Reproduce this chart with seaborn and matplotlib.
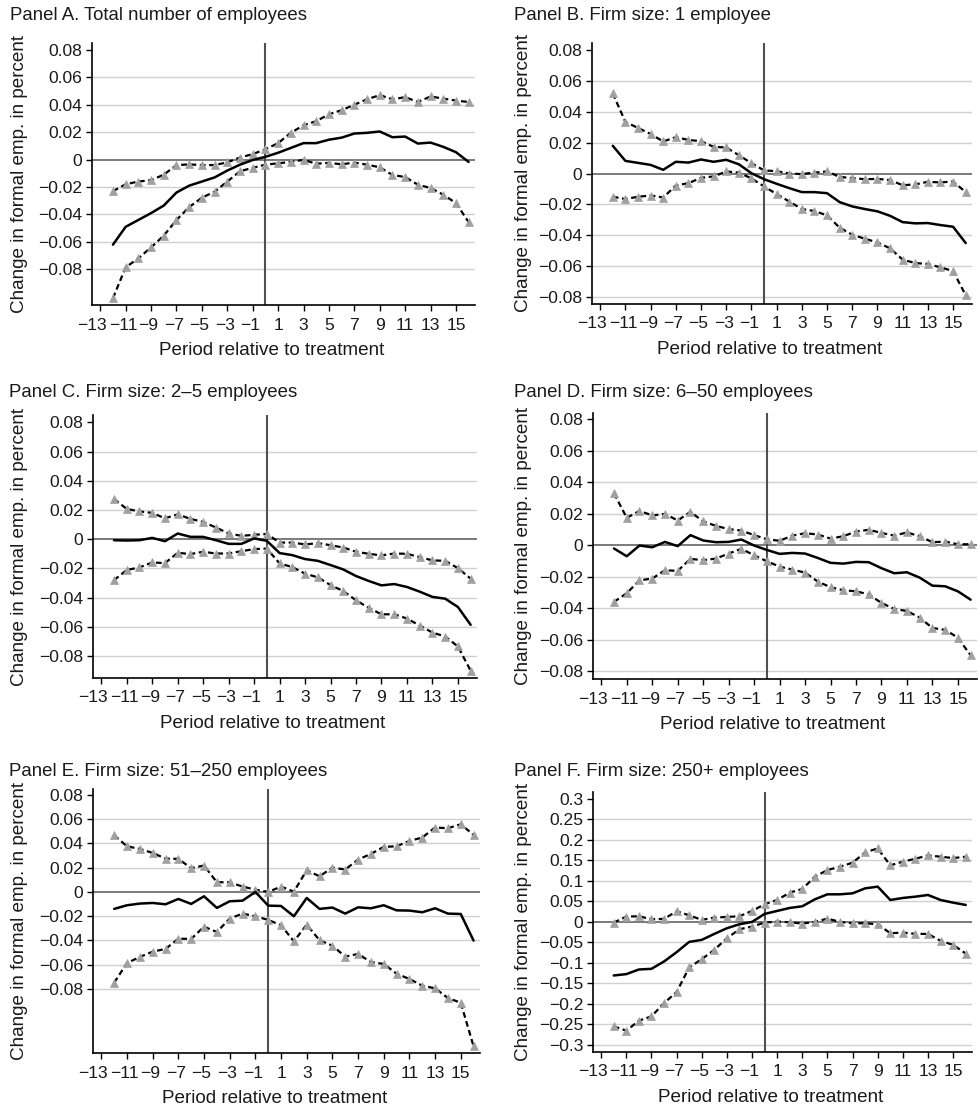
import numpy as np
import pandas as pd
import matplotlib
matplotlib.use("Agg")
import matplotlib.pyplot as plt
import matplotlib.transforms as mtransforms
import seaborn as sns

# Event-time periods
periods = list(range(-12, 17))
x_ticks = list(range(-13, 16, 2))

# Panel A. Total number of employees
a_est = [-0.062, -0.049, -0.044, -0.039, -0.0335, -0.024, -0.019, -0.016, -0.013, -0.008, -0.0037, -0.0003,
         0.002, 0.005, 0.0085, 0.012, 0.012, 0.0145, 0.016, 0.019, 0.0195, 0.0205, 0.0163, 0.0168, 0.0117,
         0.0124, 0.0093, 0.0054, -0.0017]
a_hi = [-0.023, -0.018, -0.016, -0.015, -0.011, -0.004, -0.0035, -0.004, -0.004, -0.002, 0.0015, 0.004,
        0.0075, 0.012, 0.0195, 0.025, 0.028, 0.033, 0.036, 0.040, 0.044, 0.047, 0.044, 0.0455, 0.042,
        0.046, 0.0445, 0.043, 0.042]
a_lo = [-0.101, -0.0785, -0.072, -0.064, -0.0554, -0.044, -0.0346, -0.0278, -0.0234, -0.016, -0.0085, -0.006,
        -0.0037, -0.0027, -0.0017, -0.0002, -0.003, -0.0024, -0.0034, -0.0022, -0.0037, -0.0056, -0.0112,
        -0.0127, -0.0183, -0.0207, -0.0256, -0.0317, -0.0456]

# Panel B. Firm size: 1 employee
b_est = [0.018, 0.0082, 0.0069, 0.0056, 0.0024, 0.0076, 0.0071, 0.0091, 0.0076, 0.0089, 0.006, 0.0002,
         -0.0037, -0.0067, -0.0095, -0.0121, -0.0121, -0.0128, -0.0186, -0.0214, -0.0231, -0.0246, -0.0275,
         -0.0316, -0.0324, -0.0322, -0.0335, -0.0346, -0.0452]
b_hi = [0.052, 0.0335, 0.0296, 0.0257, 0.0208, 0.0236, 0.0218, 0.021, 0.0173, 0.0169, 0.0119, 0.0067,
        0.002, 0.0015, 0.0, -0.0004, 0.0006, 0.0013, -0.0022, -0.003, -0.0037, -0.0035, -0.0043, -0.0076,
        -0.0071, -0.0054, -0.0058, -0.0052, -0.0121]
b_lo = [-0.0151, -0.0166, -0.0151, -0.0143, -0.0156, -0.0078, -0.0063, -0.0028, -0.0019, 0.0013, 0.0006,
        -0.0032, -0.0084, -0.0134, -0.0182, -0.0231, -0.0244, -0.0272, -0.0352, -0.0398, -0.0424, -0.0448,
        -0.0486, -0.056, -0.0582, -0.0588, -0.061, -0.0634, -0.0791]

# Panel C. Firm size: 2-5 employees
c_est = [-0.0007, -0.0009, -0.0007, 0.0009, -0.0014, 0.0039, 0.0016, 0.0016, -0.0007, -0.0032, -0.0032,
         0.0005, -0.0011, -0.0095, -0.0109, -0.0136, -0.0148, -0.0177, -0.0207, -0.0252, -0.0286, -0.0316,
         -0.0307, -0.0327, -0.0359, -0.0395, -0.0407, -0.0464, -0.0586]
c_hi = [0.0275, 0.0207, 0.019, 0.018, 0.0143, 0.017, 0.0139, 0.0118, 0.008, 0.0039, 0.0023, 0.003, 0.0036,
        -0.0023, -0.0023, -0.0036, -0.0027, -0.0041, -0.0057, -0.0086, -0.01, -0.0111, -0.0098, -0.01,
        -0.0123, -0.0145, -0.0148, -0.0198, -0.027]
c_lo = [-0.028, -0.0211, -0.0193, -0.0159, -0.0164, -0.0093, -0.0102, -0.0086, -0.0098, -0.0098, -0.0082,
        -0.0068, -0.0064, -0.0166, -0.0191, -0.0236, -0.0261, -0.0314, -0.0355, -0.0418, -0.047, -0.0514,
        -0.0514, -0.0543, -0.0591, -0.0639, -0.0666, -0.0734, -0.09]

# Panel D. Firm size: 6-50 employees
d_est = [-0.0021, -0.007, -0.0002, -0.0013, 0.0021, -0.0006, 0.0064, 0.003, 0.0019, 0.0021, 0.0036, -0.0002,
         -0.003, -0.0055, -0.0049, -0.0053, -0.0081, -0.0112, -0.0117, -0.0106, -0.0108, -0.0146, -0.0178,
         -0.0172, -0.0206, -0.0257, -0.0261, -0.0293, -0.0346]
d_hi = [0.0329, 0.0174, 0.0218, 0.0189, 0.0199, 0.0157, 0.0212, 0.0151, 0.0123, 0.0102, 0.0093, 0.0064,
        0.0038, 0.0028, 0.0061, 0.0076, 0.0068, 0.0042, 0.0057, 0.0087, 0.0098, 0.0078, 0.0061, 0.0081,
        0.0057, 0.0019, 0.0023, 0.0006, 0.0006]
d_lo = [-0.036, -0.0305, -0.0223, -0.0212, -0.0159, -0.0163, -0.0087, -0.0095, -0.0085, -0.0053, -0.0023,
        -0.0064, -0.0102, -0.0136, -0.0155, -0.0174, -0.0231, -0.0267, -0.0286, -0.0293, -0.0312, -0.0367,
        -0.0405, -0.0418, -0.046, -0.0526, -0.0538, -0.0587, -0.07]

# Panel E. Firm size: 51-250 employees
e_est = [-0.014, -0.011, -0.0096, -0.0091, -0.0102, -0.0058, -0.0099, -0.0036, -0.0132, -0.0077, -0.0072,
         0.0, -0.0113, -0.0116, -0.0201, -0.005, -0.014, -0.0129, -0.0179, -0.0127, -0.0135, -0.011,
         -0.0152, -0.0154, -0.0168, -0.0135, -0.0179, -0.0182, -0.0402]
e_hi = [0.0468, 0.0377, 0.0355, 0.0322, 0.0275, 0.0273, 0.0196, 0.0218, 0.008, 0.008, 0.0044, 0.0019, 0.0,
        0.0044, 0.0003, 0.0179, 0.0129, 0.0201, 0.0185, 0.0267, 0.0314, 0.0372, 0.0377, 0.0421, 0.0449,
        0.0532, 0.0526, 0.0559, 0.0471]
e_lo = [-0.0749, -0.0587, -0.0537, -0.0493, -0.0471, -0.0386, -0.0388, -0.0287, -0.0331, -0.022, -0.0179,
        -0.0201, -0.0231, -0.0275, -0.0408, -0.027, -0.0399, -0.0444, -0.0534, -0.0512, -0.0579, -0.0595,
        -0.0675, -0.0719, -0.0774, -0.0796, -0.0876, -0.0915, -0.1275]

# Panel F. Firm size: 250+ employees
f_est = [-0.1314, -0.1281, -0.1168, -0.1152, -0.0973, -0.0746, -0.0495, -0.0446, -0.03, -0.0162, -0.0065,
         -0.0008, 0.0187, 0.026, 0.0333, 0.0373, 0.0543, 0.0665, 0.0665, 0.0689, 0.0811, 0.0852, 0.0527,
         0.0576, 0.0608, 0.0649, 0.0527, 0.0462, 0.0406]
f_hi = [-0.0024, 0.0122, 0.013, 0.0057, 0.0065, 0.0251, 0.0154, 0.0041, 0.0097, 0.0114, 0.013, 0.026,
        0.0422, 0.0527, 0.0706, 0.0795, 0.1095, 0.1257, 0.1338, 0.1436, 0.1687, 0.1784, 0.1371, 0.146,
        0.1533, 0.1614, 0.1582, 0.1549, 0.1582]
f_lo = [-0.2555, -0.266, -0.2417, -0.2311, -0.1987, -0.1719, -0.1119, -0.0916, -0.0689, -0.0406, -0.0187,
        -0.0122, -0.0024, 0.0, -0.0016, -0.0049, -0.0008, 0.0073, -0.0008, -0.0041, -0.0041, -0.0065,
        -0.0284, -0.0268, -0.03, -0.03, -0.047, -0.0568, -0.0779]

titles = [
    "Panel A. Total number of employees",
    "Panel B. Firm size: 1 employee",
    "Panel C. Firm size: 2\u20135 employees",
    "Panel D. Firm size: 6\u201350 employees",
    "Panel E. Firm size: 51\u2013250 employees",
    "Panel F. Firm size: 250+ employees",
]
small_yticks = [-0.08, -0.06, -0.04, -0.02, 0.0, 0.02, 0.04, 0.06, 0.08]
large_yticks = [-0.3, -0.25, -0.2, -0.15, -0.1, -0.05, 0.0, 0.05, 0.1, 0.15, 0.2, 0.25, 0.3]

sns.set_style("ticks")
plt.rcParams["font.family"] = ["Liberation Sans", "DejaVu Sans"]

W, H = 979, 1110
fig = plt.figure(figsize=(W / 100, H / 100), dpi=100)

# (left, right, top, bottom) of each plot area in pixels, plus y-limits and title anchor
panels = [
    dict(box=(92, 475, 43, 305), ylim=(-0.106, 0.085), est=a_est, lo=a_lo, hi=a_hi, yt=small_yticks,
         tx=10, ty=15),
    dict(box=(592, 972, 43, 304), ylim=(-0.0848, 0.0848), est=b_est, lo=b_lo, hi=b_hi, yt=small_yticks,
         tx=514, ty=15),
    dict(box=(93, 477, 415, 678), ylim=(-0.095, 0.085), est=c_est, lo=c_lo, hi=c_hi, yt=small_yticks,
         tx=9, ty=393),
    dict(box=(593, 977, 413, 679), ylim=(-0.085, 0.084), est=d_est, lo=d_lo, hi=d_hi, yt=small_yticks,
         tx=514, ty=393),
    dict(box=(93, 480, 789, 1053), ylim=(-0.133, 0.085), est=e_est, lo=e_lo, hi=e_hi, yt=small_yticks,
         tx=9, ty=771),
    dict(box=(593, 972, 792, 1052), ylim=(-0.318, 0.316), est=f_est, lo=f_lo, hi=f_hi, yt=large_yticks,
         tx=514, ty=771),
]

TEXT = "#1a1a1a"


def fmt(v):
    if abs(v) < 1e-12:
        return "0"
    return f"{v:g}".replace("-", "\u2212")


for i, p in enumerate(panels):
    l, r, t, b = p["box"]
    ax = fig.add_axes([l / W, 1 - b / H, (r - l) / W, (b - t) / H])

    df = pd.DataFrame({"period": periods, "est": p["est"], "lo": p["lo"], "hi": p["hi"]})

    # horizontal grid (top tick left bare), zero line and treatment line
    for yv in p["yt"][:-1]:
        if abs(yv) > 1e-12:
            ax.axhline(yv, color="#d0d0d0", lw=1.0, zorder=0)
    ax.axhline(0, color="#707070", lw=1.3, zorder=1)
    ax.axvline(0, color="#505050", lw=1.5, zorder=1)

    # confidence bounds
    for col in ("hi", "lo"):
        sns.lineplot(data=df, x="period", y=col, ax=ax, color="black", lw=1.6,
                     dashes=False, linestyle=(0, (2.6, 1.6)), marker="^", markersize=6,
                     markerfacecolor="#a0a0a0", markeredgecolor="#a0a0a0", markeredgewidth=0.5,
                     zorder=3)
    # point estimate
    sns.lineplot(data=df, x="period", y="est", ax=ax, color="black", lw=1.8, zorder=4)

    ax.set_xlim(-13.65, 16.5)
    ax.set_ylim(*p["ylim"])
    ax.set_xticks(x_ticks)
    ax.set_xticklabels([fmt(v) for v in x_ticks])
    ax.set_yticks(p["yt"])
    ax.set_yticklabels([fmt(v) for v in p["yt"]])

    for s in ("top", "right"):
        ax.spines[s].set_visible(False)
    for s in ("left", "bottom"):
        ax.spines[s].set_color("black")
        ax.spines[s].set_linewidth(1.2)
    ax.tick_params(axis="both", direction="out", length=4, width=1, color="black",
                   labelsize=12.6, labelcolor=TEXT)
    ax.tick_params(axis="x", pad=5)
    ax.tick_params(axis="y", pad=3)

    # nudge negative period labels left so the crowded ones stay apart
    for v, lab in zip(x_ticks, ax.get_xticklabels()):
        if v < 0:
            dx = -8 if v == x_ticks[0] else -2.5
            lab.set_transform(lab.get_transform() +
                              mtransforms.ScaledTranslation(dx / 100, 0, fig.dpi_scale_trans))

    ax.set_xlabel("Period relative to treatment", fontsize=13.6, color=TEXT)
    ax.set_ylabel("Change in formal emp. in percent", fontsize=13.6, color=TEXT)
    # axis-label anchors in pixels
    ylab_right = 28 if l < 300 else 532
    ax.yaxis.set_label_coords((ylab_right - l) / (r - l), 0.5)
    ax.xaxis.set_label_coords(((l + r) / 2 - 12 - l) / (r - l), -37 / (b - t))

    fig.text(p["tx"] / W, 1 - p["ty"] / H, titles[i], fontsize=13.4, color=TEXT,
             ha="left", va="center")

fig.savefig("out.png", dpi=100)
